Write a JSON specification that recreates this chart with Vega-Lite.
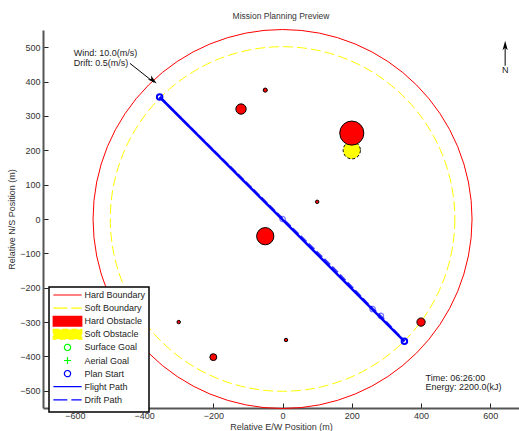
{
  "$schema": "https://vega.github.io/schema/vega-lite/v6.json",
  "width": 476,
  "height": 378,
  "autosize": {"type": "none"},
  "padding": {"left": 43, "top": 30, "right": 0, "bottom": 23},
  "background": "white",
  "title": {"text": "Mission Planning Preview", "fontSize": 8.5, "fontWeight": "normal", "font": "Liberation Sans", "color": "#333333", "offset": 7, "anchor": "middle"},
  "config": {
    "view": {"stroke": null},
    "font": "Liberation Sans",
    "axis": {
      "grid": false, "domainColor": "#555555", "domainWidth": 2, "tickColor": "#222222", "tickWidth": 1, "tickSize": -5,
      "labelFontSize": 9, "labelColor": "#333333", "labelFont": "Liberation Sans", "labelPadding": 8,
      "titleFontSize": 9, "titleFontWeight": "normal", "titleColor": "#333333", "titleFont": "Liberation Sans",
      "labelOverlap": false, "labelFlush": false
    }
  },
  "encoding": {
    "x": {"field": "x", "type": "quantitative", "scale": {"domain": [-692, 683], "nice": false, "zero": false},
          "axis": {"values": [-600, -400, -200, 0, 200, 400, 600], "title": "Relative E/W Position (m)", "titlePadding": 2}},
    "y": {"field": "y", "type": "quantitative", "scale": {"domain": [-550, 550], "nice": false, "zero": false},
          "axis": {"values": [-500, -400, -300, -200, -100, 0, 100, 200, 300, 400, 500], "title": "Relative N/S Position (m)", "titlePadding": 3}},
    "color": {"field": "series", "type": "nominal",
      "scale": {"domain": ["Hard Boundary", "Soft Boundary", "Hard Obstacle", "Soft Obstacle", "Surface Goal", "Aerial Goal", "Plan Start", "Flight Path", "Drift Path"],
                "range": ["#ff0000", "#ffff00", "#ff0000", "#ffff00", "#00ff00", "#00ff00", "#0000ff", "#0000ff", "#0000ff"]},
      "legend": {
        "title": null, "orient": "none", "legendX": 6, "legendY": 257, "padding": 3.5,
        "strokeColor": "#000000", "fillColor": "#ffffff", "symbolSize": 800, "labelOffset": 23,
        "labelFontSize": 9, "labelFont": "Liberation Sans", "labelColor": "#222222", "rowPadding": -3.9, "labelLimit": 200,
        "encode": {
          "legend": {"update": {"strokeWidth": {"value": 1.5}}},
          "symbols": {"update": {
            "x": {"value": 15},
            "shape": {"signal": "(datum.value=='Hard Boundary'||datum.value=='Soft Boundary'||datum.value=='Flight Path'||datum.value=='Drift Path') ? 'M0,-0.38L0,-0.38M-1,0H1M0,0.38L0,0.38' : (datum.value=='Hard Obstacle'||datum.value=='Soft Obstacle') ? 'M0,-0.38L0,-0.38M-1,-0.34H1V0.34H-1ZM0,0.38L0,0.38' : datum.value=='Aerial Goal' ? 'M0,-0.38L0,-0.38M-0.25,0H0.25M0,-0.25V0.25M0,0.38L0,0.38' : 'M0,-0.38L0,-0.38M0.22,0A0.22,0.22,0,1,1,-0.22,0A0.22,0.22,0,1,1,0.22,0M0,0.38L0,0.38'"},
            "size": {"signal": "800"},
            "fillOpacity": {"signal": "(datum.value=='Hard Obstacle'||datum.value=='Soft Obstacle') ? 1 : 0"},
            "stroke": {"signal": "(datum.value=='Hard Obstacle'||datum.value=='Soft Obstacle') ? '#000000' : datum.value=='Hard Boundary' ? '#ff4444' : datum.value=='Soft Boundary' ? '#ffff00' : (datum.value=='Surface Goal'||datum.value=='Aerial Goal') ? '#00cc00' : '#4444ff'"},
            "strokeDash": {"signal": "datum.value=='Soft Boundary' ? [14,4] : datum.value=='Soft Obstacle' ? [6,3] : datum.value=='Drift Path' ? [14,4] : [1,0]"},
            "strokeWidth": {"signal": "(datum.value=='Hard Obstacle'||datum.value=='Soft Obstacle') ? 1.5 : 1.2"},
            "opacity": {"value": 1}
          }}
        }
      }
    }
  },
  "layer": [
    {
      "data": {"values": [{"series": "Hard Boundary", "x": 0, "y": 0, "r": 550}]},
      "mark": {"type": "point", "shape": "circle", "filled": false, "strokeWidth": 1, "opacity": 1},
      "encoding": {
        "size": {"field": "r", "type": "quantitative", "scale": {"type": "pow", "exponent": 2, "domain": [0, 550], "range": [0, 143641]}, "legend": null}
      }
    },
    {
      "data": {"values": [{"series": "Soft Boundary", "x": 0, "y": 0, "r": 500}]},
      "mark": {"type": "point", "shape": "circle", "filled": false, "strokeWidth": 1, "strokeDash": [10, 4], "opacity": 1},
      "encoding": {
        "size": {"field": "r", "type": "quantitative", "legend": null}
      }
    },
    {
      "data": {"values": [{"series": "Soft Obstacle", "x": 200, "y": 200, "r": 25}]},
      "mark": {"type": "point", "shape": "circle", "filled": true, "stroke": "#000000", "strokeWidth": 1, "strokeDash": [3, 2], "opacity": 1},
      "encoding": {
        "size": {"field": "r", "type": "quantitative", "legend": null}
      }
    },
    {
      "data": {"values": [
        {"series": "Hard Obstacle", "x": -50, "y": 375, "r": 6},
        {"series": "Hard Obstacle", "x": -120, "y": 320, "r": 15},
        {"series": "Hard Obstacle", "x": 200, "y": 250, "r": 35},
        {"series": "Hard Obstacle", "x": 100, "y": 50, "r": 5},
        {"series": "Hard Obstacle", "x": -50, "y": -50, "r": 25},
        {"series": "Hard Obstacle", "x": -300, "y": -300, "r": 5},
        {"series": "Hard Obstacle", "x": 400, "y": -300, "r": 12},
        {"series": "Hard Obstacle", "x": 10, "y": -352, "r": 5},
        {"series": "Hard Obstacle", "x": -200, "y": -402, "r": 10}
      ]},
      "mark": {"type": "point", "shape": "circle", "filled": true, "stroke": "#000000", "strokeWidth": 1, "opacity": 1},
      "encoding": {
        "size": {"field": "r", "type": "quantitative", "legend": null}
      }
    },
    {
      "data": {"values": [
        {"series": "Flight Path", "x": -355, "y": 355},
        {"series": "Flight Path", "x": 352, "y": -356}
      ]},
      "mark": {"type": "line", "strokeWidth": 2.5},
      "encoding": {}
    },
    {
      "data": {"values": [
        {"series": "Drift Path", "x": -355, "y": 355},
        {"series": "Drift Path", "x": -2, "y": 3},
        {"series": "Drift Path", "x": 150, "y": -146},
        {"series": "Drift Path", "x": 260, "y": -261},
        {"series": "Drift Path", "x": 284, "y": -283},
        {"series": "Drift Path", "x": 352, "y": -356}
      ]},
      "mark": {"type": "line", "strokeWidth": 2.2, "strokeDash": [8, 3], "opacity": 0.8},
      "encoding": {}
    },
    {
      "data": {"values": [
        {"series": "Drift Path", "x": 0, "y": 0},
        {"series": "Drift Path", "x": 260, "y": -262},
        {"series": "Drift Path", "x": 284, "y": -282}
      ]},
      "mark": {"type": "point", "shape": "circle", "filled": false, "size": 30, "strokeWidth": 1.2, "opacity": 0.55},
      "encoding": {}
    },
    {
      "data": {"values": [
        {"series": "Plan Start", "x": -355, "y": 355},
        {"series": "Plan Start", "x": 352, "y": -356}
      ]},
      "mark": {"type": "point", "shape": "circle", "filled": false, "size": 30, "strokeWidth": 2, "opacity": 1},
      "encoding": {}
    },
    {
      "data": {"values": [
        {"arrow": "Wind", "x": -441, "y": 453, "x2": -372, "y2": 398},
        {"arrow": "North", "x": 643, "y": 446, "x2": 643, "y2": 505}
      ]},
      "mark": {"type": "rule", "strokeWidth": 1},
      "encoding": {"x2": {"field": "x2"}, "y2": {"field": "y2"}, "color": {"value": "#000000"}}
    },
    {
      "data": {"values": [
        {"arrow": "Wind", "x": -374, "y": 403, "dir": 129},
        {"arrow": "North", "x": 643, "y": 505, "dir": 0}
      ]},
      "mark": {"type": "point", "shape": "M0,-1L0.55,1L0,0.5L-0.55,1Z", "filled": true, "size": 90, "opacity": 1},
      "encoding": {"angle": {"field": "dir", "type": "quantitative", "scale": null}, "color": {"value": "#000000"}}
    },
    {
      "data": {"values": [
        {"label": "Wind: 10.0(m/s)", "x": -603, "y": 483},
        {"label": "Drift: 0.5(m/s)", "x": -603, "y": 455},
        {"label": "Time: 06:26:00", "x": 413, "y": -464},
        {"label": "Energy: 2200.0(kJ)", "x": 413, "y": -489}
      ]},
      "mark": {"type": "text", "align": "left", "baseline": "middle", "fontSize": 9, "font": "Liberation Sans"},
      "encoding": {"text": {"field": "label"}, "color": {"value": "#222222"}}
    },
    {
      "data": {"values": [{"label": "N", "x": 643, "y": 434}]},
      "mark": {"type": "text", "align": "center", "baseline": "middle", "fontSize": 9, "font": "Liberation Sans"},
      "encoding": {"text": {"field": "label"}, "color": {"value": "#222222"}}
    }
  ]
}
